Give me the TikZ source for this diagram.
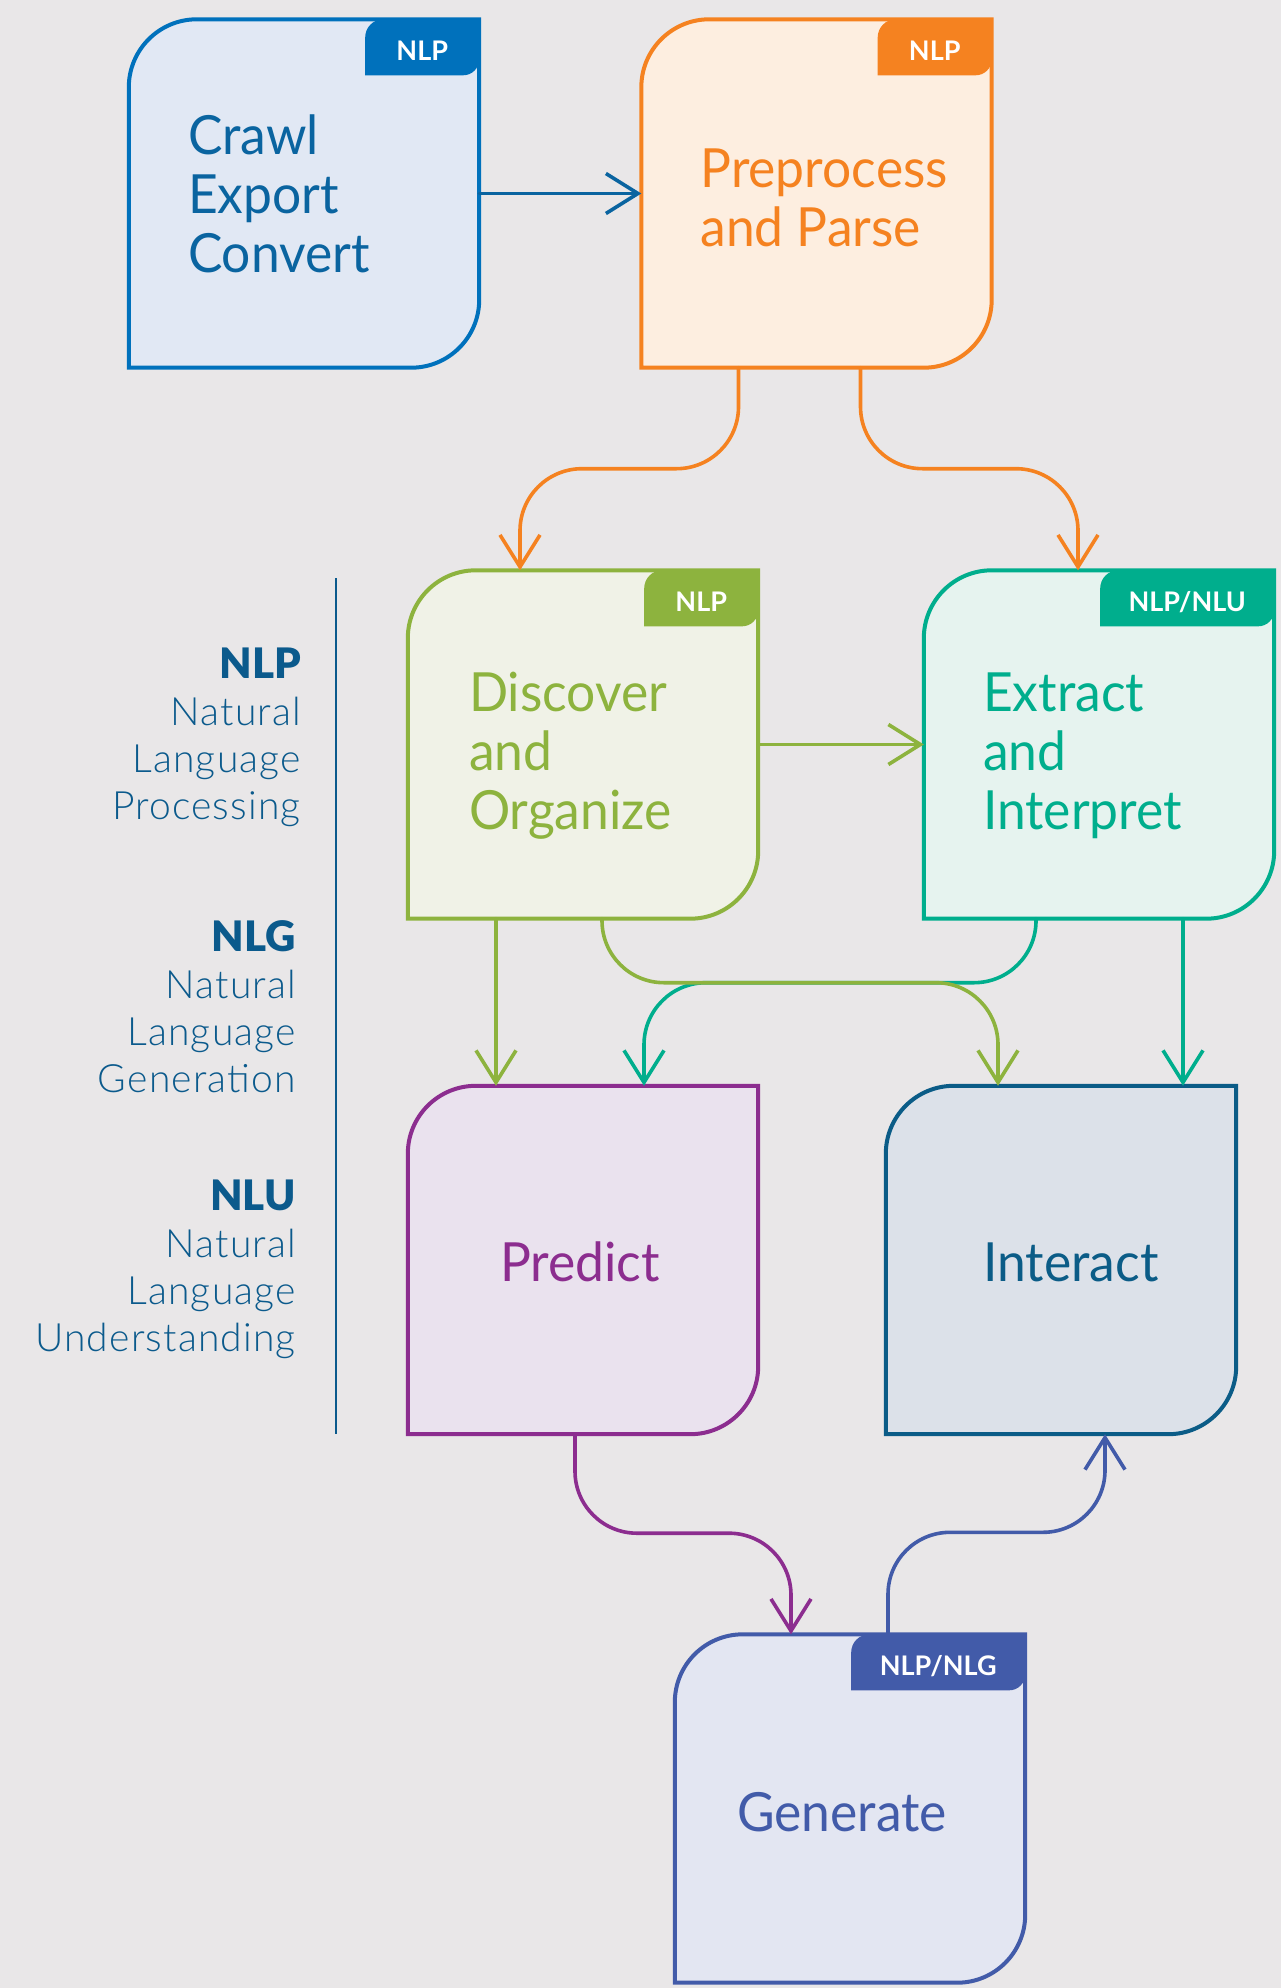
\documentclass[tikz,border=0pt]{standalone}
\usepackage{fontspec}
\setmainfont{Lato}
\newfontfamily\boxfont{Lato}[FakeStretch=0.955]
\IfFontExistsTF{Lato Light}{\newfontfamily\sidefont{Lato Light}[LetterSpace=3]}{\newfontfamily\sidefont{Lato}[LetterSpace=3]}
\IfFontExistsTF{Lato Black}{\newfontfamily\sidebold{Lato Black}}{\def\sidebold{\bfseries}}
\usetikzlibrary{arrows.meta,calc}

\definecolor{pagebg}{HTML}{E9E7E8}
\definecolor{crawlcol}{HTML}{0071BC}
\definecolor{crawlbg}{HTML}{E1E8F4}
\definecolor{crawltxt}{HTML}{0A64A0}
\definecolor{prepcol}{HTML}{F58220}
\definecolor{prepbg}{HTML}{FDEEE0}
\definecolor{disccol}{HTML}{8DB33E}
\definecolor{discbg}{HTML}{F0F2E7}
\definecolor{extrcol}{HTML}{00AE8D}
\definecolor{extrbg}{HTML}{E6F3EF}
\definecolor{predcol}{HTML}{8C2D8F}
\definecolor{predbg}{HTML}{EAE2EE}
\definecolor{intercol}{HTML}{0B5C87}
\definecolor{interbg}{HTML}{DCE1E9}
\definecolor{gencol}{HTML}{425BA9}
\definecolor{genbg}{HTML}{E3E6F2}
\definecolor{sidetxt}{HTML}{0B5A8C}

% box outline: rounded top left and bottom right
\def\flowbox#1{\draw[line width=4pt, draw=#1col, fill=#1bg] (#1.south west) -- ([yshift=-68pt]#1.north west) arc[start angle=180, end angle=90, radius=68pt] -- (#1.north east) -- ([yshift=68pt]#1.south east) arc[start angle=0, end angle=-90, radius=68pt] -- cycle;}
% tag in the top right corner of a box
\def\flowtag#1#2#3{\fill[#1col] ([xshift=-#2, yshift=-56pt]#1.north east) -- ([xshift=-#2, yshift=-18pt]#1.north east) arc[start angle=180, end angle=90, radius=18pt] -- (#1.north east) -- ([yshift=-40pt]#1.north east) arc[start angle=0, end angle=-90, radius=16pt] -- cycle;
	\node[tagtext] (#1tag) at ([xshift=-#2/2, yshift=-41.5pt]#1.north east) {#3};}

\begin{document}
\begin{tikzpicture}[x=1pt, y=1pt,
	box/.style={minimum width=350pt, minimum height=348pt, inner sep=0pt},
	boxtext/.style={font=\boxfont\fontsize{54}{59}\selectfont, align=left, inner sep=0pt},
	tagtext/.style={font=\fontsize{27}{30}\selectfont\bfseries, text=white, inner sep=0pt, anchor=base},
	sidetext/.style={font=\sidefont\fontsize{39}{47}\selectfont, text=sidetxt, align=right, inner sep=0pt, anchor=north east},
	conn/.style={line width=3.6pt, line cap=round, rounded corners=62pt, -{Straight Barb[length=32pt, width=40pt]}}]
		%%%%% START %%%%%
		
		\useasboundingbox (0,0) rectangle (1281,-1988);
		\fill[pagebg] (0,0) rectangle (1281,-1988);
		
		\node[box] (crawl) at (304,-193.5) {};
		\flowbox{crawl}
		\flowtag{crawl}{114pt}{NLP}
		\node[boxtext, text=crawltxt, anchor=west] (crawltext) at ([xshift=59pt]crawl.west) {Crawl\\Export\\Convert};
		
		\node[box] (prep) at (816.5,-193.5) {};
		\flowbox{prep}
		\flowtag{prep}{114pt}{NLP}
		\node[boxtext, text=prepcol, anchor=west] (preptext) at ([xshift=59pt, yshift=-4pt]prep.west) {Preprocess\\and Parse};
		
		\node[box] (disc) at (583,-744.5) {};
		\flowbox{disc}
		\flowtag{disc}{114pt}{NLP}
		\node[boxtext, text=disccol, anchor=west] (disctext) at ([xshift=61pt, yshift=-11pt]disc.west) {Discover\\and\\Organize};
		
		\node[box] (extr) at (1099,-744.5) {};
		\flowbox{extr}
		\flowtag{extr}{174pt}{NLP/NLU}
		\node[boxtext, text=extrcol, anchor=west] (extrtext) at ([xshift=59pt, yshift=-11pt]extr.west) {Extract\\and\\Interpret};
		
		\node[box] (pred) at (583,-1260) {};
		\flowbox{pred}
		\node[boxtext, text=predcol] (predtext) at ([xshift=-3pt, yshift=-2pt]pred.center) {Predict};
		
		\node[box] (inter) at (1061,-1260) {};
		\flowbox{inter}
		\node[boxtext, text=intercol] (intertext) at ([xshift=10pt, yshift=-2pt]inter.center) {Interact};
		
		\node[box] (gen) at (850,-1808.5) {};
		\flowbox{gen}
		\flowtag{gen}{174pt}{NLP/NLG}
		\node[boxtext, text=gencol] (gentext) at ([xshift=-8pt, yshift=-4pt]gen.center) {Generate};
		
		% connectors
		\draw[conn, crawltxt] (crawl.east) -- (prep.west);
		\draw[conn, prepcol] ([xshift=-78pt]prep.south) -- ++(0,-101pt) -| ([xshift=-63pt]disc.north);
		\draw[conn, prepcol] ([xshift=44pt]prep.south) -- ++(0,-101pt) -| ([xshift=-21pt]extr.north);
		\draw[conn, disccol] (disc.east) -- (extr.west);
		\draw[conn, extrcol] ([xshift=-63pt]extr.south) -- ++(0,-64pt) -| ([xshift=61pt]pred.north);
		\draw[conn, extrcol] ([xshift=84pt]extr.south) -- ([xshift=84pt]extr.south |- inter.north);
		\draw[conn, disccol] ([xshift=-87pt]disc.south) -- ([xshift=-87pt]disc.south |- pred.north);
		\draw[conn, disccol] ([xshift=19pt]disc.south) -- ++(0,-64pt) -| ([xshift=-63pt]inter.north);
		\draw[conn, predcol] ([xshift=-8pt]pred.south) -- ++(0,-99pt) -| ([xshift=-59pt]gen.north);
		\draw[conn, gencol] ([xshift=38pt]gen.north) -- ++(0,102pt) -| ([xshift=44pt]inter.south);
		
		% side legend
		\draw[line width=2.6pt, color=sidetxt] (336,-578) -- (336,-1434);
		\node[sidetext] (nlplabel) at (301,-648) {{\sidebold\fontsize{42}{47}\selectfont NLP}\\Natural\\Language\\Processing};
		\node[sidetext] (nlglabel) at (296,-920) {{\sidebold\fontsize{42}{47}\selectfont NLG}\\Natural\\Language\\Generation};
		\node[sidetext] (nlulabel) at (296,-1180) {{\sidebold\fontsize{42}{47}\selectfont NLU}\\Natural\\Language\\Understanding};
		
		%%%%% END %%%%%
	\end{tikzpicture}
\end{document}
